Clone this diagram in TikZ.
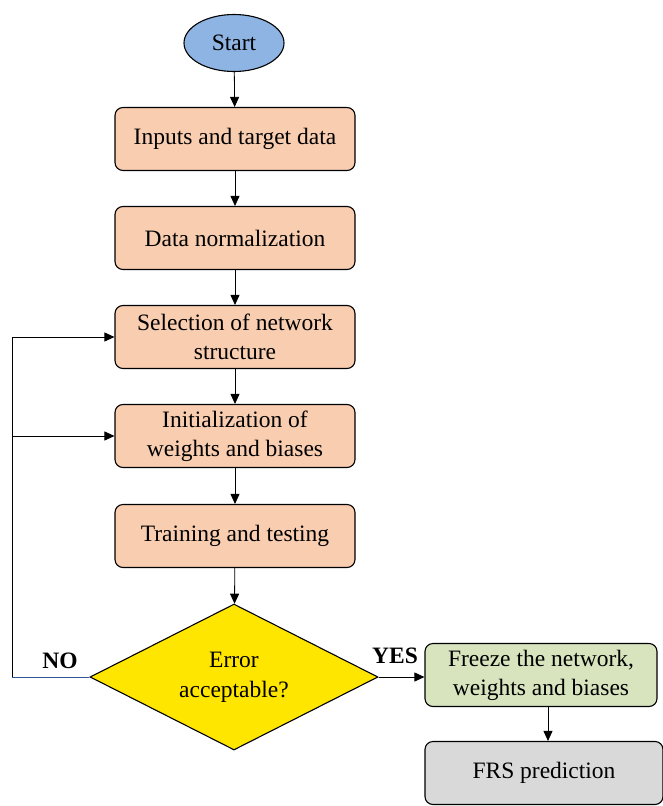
\documentclass[tikz,border=0pt]{standalone}
\usepackage{fontspec}
\setmainfont{Liberation Serif}
\usetikzlibrary{shapes.geometric,arrows.meta}
\definecolor{startblue}{HTML}{8DB4E2}
\definecolor{stepfill}{HTML}{F9CDB0}
\definecolor{okgreen}{HTML}{D7E4BD}
\definecolor{endgray}{HTML}{D9D9D9}
\definecolor{decyellow}{HTML}{FFE600}
\definecolor{loopblue}{HTML}{2F5597}
\tikzset{
  stepbox/.style={draw=black, line width=1.1pt, rounded corners=8pt, fill=stepfill,
    minimum width=240pt, minimum height=63pt, align=center, inner sep=2pt,
    font=\fontsize{23.5}{29}\selectfont},
  okbox/.style={stepbox, fill=okgreen, minimum width=232pt},
  endbox/.style={stepbox, fill=endgray, minimum width=238pt},
  startnode/.style={ellipse, draw=black, line width=1.1pt, fill=startblue,
    minimum width=100pt, minimum height=57pt, inner sep=0pt,
    font=\fontsize{23.5}{28}\selectfont},
  decision/.style={diamond, draw=black, line width=1.1pt, fill=decyellow,
    minimum width=288pt, minimum height=146pt, inner sep=0pt},
  dectext/.style={align=center, inner sep=0pt, font=\fontsize{23.5}{30}\selectfont},
  flow/.style={line width=0.8pt, -{Triangle[length=10pt,width=9pt]}},
  tag/.style={font=\bfseries\fontsize{23.5}{28}\selectfont}
}
\begin{document}
\begin{tikzpicture}[x=1pt,y=-1pt]
\useasboundingbox (0,0) rectangle (663,806);

\node[startnode] (start) at (234,43) {Start};
\node[stepbox] (inputs) at (235,139) {Inputs and target data};
\node[stepbox] (norm) at (235,238) {Data normalization};
\node[stepbox] (struct) at (235,337) {Selection of network\\structure};
\node[stepbox] (init) at (235,436) {Initialization of\\weights and biases};
\node[stepbox] (train) at (235,536) {Training and testing};
\node[decision] (err) at (234,677) {};
\node[dectext] (errtext) at (err.center) {Error\\acceptable?};
\node[okbox] (freeze) at (541,675) {Freeze the network,\\weights and biases};
\node[endbox] (frs) at (544,773) {FRS prediction};

\draw[flow] (start) -- (inputs);
\draw[flow] (inputs) -- (norm);
\draw[flow] (norm) -- (struct);
\draw[flow] (struct) -- (init);
\draw[flow] (init) -- (train);
\draw[flow] (train) -- (err);
\draw[flow] (err.east) -- (freeze.west |- err.east);
\draw[flow] (freeze.south -| 548,0) -- (frs.north -| 548,0);

% loop back from the NO branch
\coordinate (loopbot) at (12,677);
\coordinate (looptop) at (12,337);
\coordinate (loopmid) at (12,436);
\draw[loopblue, line width=0.7pt] (err.west) -- (loopbot);
\draw[line width=0.7pt] (loopbot) -- (looptop);
\draw[flow] (looptop) -- (struct.west);
\draw[flow] (loopmid) -- (init.west);

\node[tag] (no) at (60,661) {NO};
\node[tag] (yes) at (395,656) {YES};
\end{tikzpicture}
\end{document}
